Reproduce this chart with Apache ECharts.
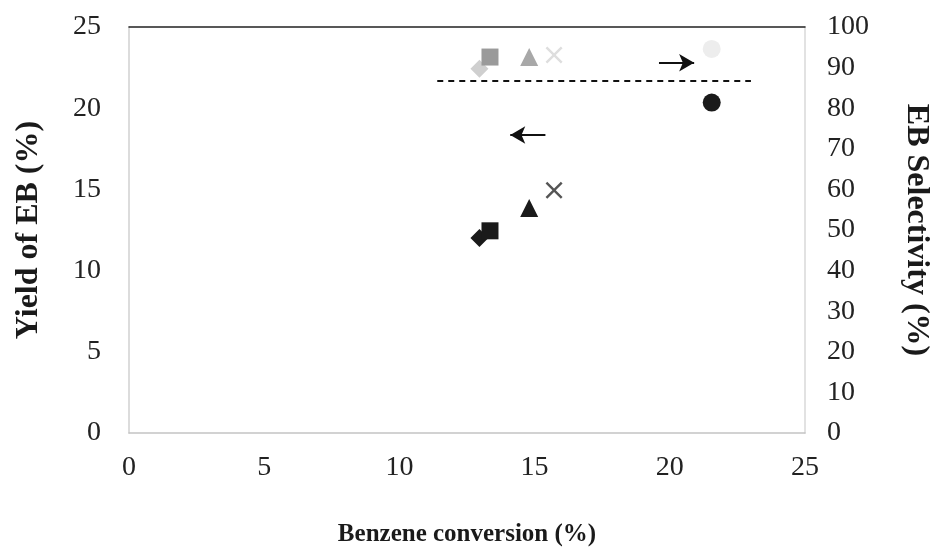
<!DOCTYPE html>
<html>
<head>
<meta charset="utf-8">
<script src="https://cdn.jsdelivr.net/npm/echarts@6/dist/echarts.min.js"></script>
<style>
  html, body { margin: 0; padding: 0; background: #fff; }
  #chart { width: 940px; height: 553px; }
</style>
</head>
<body>
<div id="chart"></div>
<script>
// ---- data ----
const xTicks = [0, 5, 10, 15, 20, 25];
const yieldTicks = [0, 5, 10, 15, 20, 25];
const selTicks = [0, 10, 20, 30, 40, 50, 60, 70, 80, 90, 100];
const catalysts = ['A', 'B', 'C', 'D', 'E'];
const conversion = [12.96, 13.35, 14.8, 15.72, 21.55];     // Benzene conversion (%)
const yieldEB = [12.0, 12.45, 13.85, 14.95, 20.35];         // Yield of EB (%)
const selectivity = [89.7, 92.6, 92.6, 93.1, 94.6];         // EB Selectivity (%)
const symbols = ['diamond', 'rect', 'triangle',
  'path://M1,0L5,4L9,0L10,1L6,5L10,9L9,10L5,6L1,10L0,9L4,5L0,1Z', 'circle'];
// annotations (data coordinates)
const leftArrow = [[15.4, 18.35], [14.1, 18.35]];     // on yield axis
const rightArrow = [[19.6, 91.2], [20.9, 91.2]];      // on selectivity axis
const dashedLine = [[11.4, 86.8], [23.0, 86.8]];      // on selectivity axis

// ---- styles ----
const font = 'Liberation Serif';
const yieldColors = ['#1a1a1a', '#1a1a1a', '#1a1a1a', '#555', '#1a1a1a'];
const selColors = ['#cfcfcf', '#9a9a9a', '#a8a8a8', '#dedede', '#ededed'];
const sizes = [18, 17, 18, 17, 18];

const series = [];
catalysts.forEach((c, i) => {
  series.push({
    name: 'Yield ' + c, type: 'scatter', xAxisIndex: 0, yAxisIndex: 0,
    symbol: symbols[i], symbolSize: sizes[i],
    itemStyle: { color: yieldColors[i], opacity: 1 },
    data: [[conversion[i], yieldEB[i]]], z: 5
  });
});
catalysts.forEach((c, i) => {
  series.push({
    name: 'Selectivity ' + c, type: 'scatter', xAxisIndex: 0, yAxisIndex: 1,
    symbol: symbols[i], symbolSize: sizes[i],
    itemStyle: { color: selColors[i], opacity: 1 },
    data: [[conversion[i], selectivity[i]]], z: 4
  });
});
// annotation carriers
series.push({
  name: 'annotYield', type: 'scatter', xAxisIndex: 0, yAxisIndex: 0, data: [],
  markLine: {
    silent: true, animation: false, symbol: ['none', 'arrow'], symbolSize: [13, 15],
    label: { show: false },
    lineStyle: { color: '#111', width: 2, type: 'solid' },
    data: [[{ coord: leftArrow[0] }, { coord: leftArrow[1] }]]
  }
});
series.push({
  name: 'annotSel', type: 'scatter', xAxisIndex: 0, yAxisIndex: 1, data: [],
  markLine: {
    silent: true, animation: false, label: { show: false },
    data: [
      [{ coord: rightArrow[0], symbol: 'none', lineStyle: { color: '#111', width: 2, type: 'solid' } },
       { coord: rightArrow[1], symbol: 'arrow', symbolSize: [13, 15] }],
      [{ coord: dashedLine[0], symbol: 'none', lineStyle: { color: '#111', width: 2, type: [6, 5] } },
       { coord: dashedLine[1], symbol: 'none' }]
    ]
  }
});

const chart = echarts.init(document.getElementById('chart'), null, { renderer: 'canvas' });
chart.setOption({
  animation: false,
  backgroundColor: '#fff',
  grid: { left: 129, right: 129, top: 27, bottom: 120 },
  xAxis: [{
    type: 'value', min: xTicks[0], max: xTicks[xTicks.length - 1], interval: 5,
    position: 'bottom',
    name: 'Benzene conversion (%)', nameLocation: 'middle', nameGap: 89,
    nameTextStyle: { fontFamily: font, fontSize: 25, fontWeight: 'bold', color: '#1a1a1a' },
    axisLine: { show: true, onZero: false, lineStyle: { color: '#c4c4c4', width: 1.5 } },
    axisTick: { show: false },
    axisLabel: { fontFamily: font, fontSize: 28, color: '#222', margin: 21 },
    splitLine: { show: false }
  }, {
    type: 'value', min: xTicks[0], max: xTicks[xTicks.length - 1], interval: 5,
    position: 'top',
    axisLine: { show: true, onZero: false, lineStyle: { color: '#222', width: 1.5 } },
    axisTick: { show: false }, axisLabel: { show: false }, splitLine: { show: false }
  }],
  yAxis: [{
    type: 'value', min: yieldTicks[0], max: yieldTicks[yieldTicks.length - 1], interval: 5,
    position: 'left',
    name: 'Yield of EB (%)', nameLocation: 'middle', nameGap: 84, nameRotate: 90,
    nameTextStyle: { fontFamily: font, fontSize: 32, fontWeight: 'bold', color: '#1a1a1a' },
    axisLine: { show: true, onZero: false, lineStyle: { color: '#d0d0d0', width: 1.5 } },
    axisTick: { show: false },
    axisLabel: { fontFamily: font, fontSize: 28, color: '#222', margin: 28 },
    splitLine: { show: false }
  }, {
    type: 'value', min: selTicks[0], max: selTicks[selTicks.length - 1], interval: 10,
    position: 'right',
    name: 'EB Selectivity (%)', nameLocation: 'middle', nameGap: 95, nameRotate: -90,
    nameTextStyle: { fontFamily: font, fontSize: 32, fontWeight: 'bold', color: '#1a1a1a' },
    axisLine: { show: true, onZero: false, lineStyle: { color: '#d8d8d8', width: 1.5 } },
    axisTick: { show: false },
    axisLabel: { fontFamily: font, fontSize: 28, color: '#222', margin: 22 },
    splitLine: { show: false }
  }],
  series: series
});
</script>
</body>
</html>
